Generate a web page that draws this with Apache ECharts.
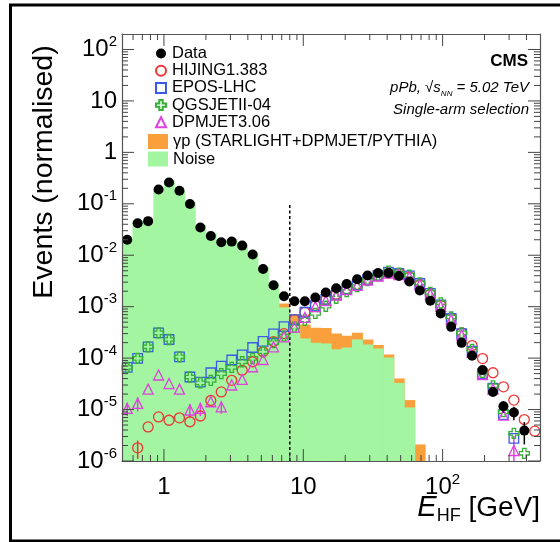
<!DOCTYPE html>
<html><head><meta charset="utf-8">
<script src="https://cdn.jsdelivr.net/npm/echarts@6/dist/echarts.min.js"></script>
<style>html,body{margin:0;padding:0;background:#fff;}#c{width:560px;height:542px;}</style>
</head><body><div id="c"></div>
<script>
// ---- binning (40 logarithmic bins from 0.5 to 500 GeV) ----
const E_MIN = 0.5, E_MAX = 500, N_BINS = 40;
const Y_MIN = 1e-6, Y_MAX = 200;
const CUT_E = 8, CUT_TOP = 0.1;

// ---- values (one per bin, null = no point) ----
const dataVals = [0.020, 0.042, 0.046, 0.19, 0.26, 0.18, 0.099, 0.0345, 0.0237, 0.0179,
  0.0184, 0.0154, 0.0103, 0.0054, 0.0026, 0.0016, 0.00128, 0.00128, 0.00151, 0.00189,
  0.00229, 0.00277, 0.00342, 0.00404, 0.00453, 0.00453, 0.00396, 0.00308, 0.00207, 0.00130,
  0.00074, 0.000405, 0.000198, 0.000111, 5.85e-5, 2.2e-5, 1.16e-5, 8.8e-6, 3.9e-6, null];
const dataErr = [0,0,0,0,0,0,0,0,0,0, 0,0,0,0,0,0,0,0,0,0,
  0,0,0,0,0,0,0,0,0,0, 0,0,0,0,3e-6,2e-6,3e-6,2.6e-6,1.8e-6,0];
const noiseVals = [0.021, 0.0457, 0.0457, 0.203, 0.277, 0.183, 0.108, 0.0383, 0.0264, 0.0202,
  0.0202, 0.0164, 0.0113, 0.00593, 0.0028, 9.6e-4, 4.7e-4, 2.4e-4, 1.98e-4, 1.93e-4,
  1.48e-4, 1.61e-4, 2.31e-4, 1.85e-4, 1.54e-4, 1.03e-4, 3.3e-5, 1.1e-5, 0, 0,
  0, 0, 0, 0, 0, 0, 0, 0, 0, 0];
const gammaVals = [0,0,0,0,0,0,0,0,0,0, 0,0,0,0,0, 1.9e-4, 2.4e-4, 2.1e-4, 1.9e-4, 1.94e-4,
  1.54e-4, 1.1e-4, 7.9e-5, 4.6e-5, 2.5e-5, 1.5e-5, 7.2e-6, 4.3e-6, 2.1e-6, 0,
  0,0,0,0,0,0,0,0,0,0];
const hijingVals = [null, 1.8e-6, 4.6e-6, 7.2e-6, 6.2e-6, 6.9e-6, 5.8e-6, 7.5e-6, 1.5e-5, 2.2e-5,
  3.7e-5, 5.8e-5, 8.5e-5, 1.33e-4, 2.1e-4, 3.0e-4, 5.6e-4, 7.8e-4, 1.05e-3, 1.38e-3,
  1.75e-3, 2.2e-3, 2.7e-3, 3.35e-3, 4.0e-3, 4.5e-3, 4.4e-3, 3.8e-3, 2.7e-3, 1.75e-3,
  1.05e-3, 6.0e-4, 3.1e-4, 1.75e-4, 9.8e-5, 5.2e-5, 2.77e-5, 1.53e-5, 6.4e-6, 3.8e-6];
const hijingErr = [0,7e-7,0,0,0,0,0,0,0,0, 0,0,0,0,0,0,0,0,0,0, 0,0,0,0,0,0,0,0,0,0, 0,0,0,0,0,0,0,0,0,0];
const eposVals = [6.6e-5, 9.9e-5, 1.66e-4, 3.1e-4, 2.3e-4, 1.06e-4, 4.3e-5, 3.4e-5, 5.2e-5, 7.0e-5,
  9.2e-5, 1.16e-4, 1.61e-4, 2.11e-4, 2.96e-4, 4.1e-4, 5.6e-4, 7.8e-4, 1.05e-3, 1.38e-3,
  1.72e-3, 2.22e-3, 2.65e-3, 3.37e-3, 4.04e-3, 4.7e-3, 4.42e-3, 3.96e-3, 2.82e-3, 1.82e-3,
  1.08e-3, 5.9e-4, 3.0e-4, 1.37e-4, 5.0e-5, 2.6e-5, 8.0e-6, 2.75e-6, null, null];
const qgsVals = [6.6e-5, 9.9e-5, 1.66e-4, 3.1e-4, 2.3e-4, 1.06e-4, 4.3e-5, 3.3e-5, 3.7e-5, 5.0e-5,
  6.6e-5, 8.5e-5, 9.9e-5, 1.33e-4, 2.0e-4, 2.67e-4, 4.0e-4, 5.5e-4, 7.4e-4, 1.02e-3,
  1.46e-3, 1.97e-3, 2.47e-3, 3.23e-3, 4.0e-3, 4.9e-3, 4.5e-3, 4.1e-3, 2.9e-3, 1.9e-3,
  1.19e-3, 6.3e-4, 3.1e-4, 1.48e-4, 5.3e-5, 2.9e-5, 9.1e-6, 3.45e-6, 1.41e-6, null];
const dpmVals = [1.05e-5, 1.32e-5, 2.5e-5, 4.7e-5, 3.2e-5, 2.5e-5, 9.8e-6, 1.05e-5, 1.42e-5, 1.13e-5,
  3.0e-5, 3.85e-5, 6.8e-5, 9.4e-5, 1.66e-4, 2.6e-4, 4.0e-4, 6.2e-4, 1.0e-3, 1.32e-3,
  1.68e-3, 2.15e-3, 2.6e-3, 3.3e-3, 3.95e-3, 4.5e-3, 4.2e-3, 3.8e-3, 2.7e-3, 1.75e-3,
  1.02e-3, 5.6e-4, 2.8e-4, 1.3e-4, 4.8e-5, 2.5e-5, 7.8e-6, 1.6e-6, null, null];
const dpmErr = [3e-6,4e-6,0,0,0,0,3e-6,3e-6,0,3e-6, 0,0,0,0,0,0,0,0,0,0,
  0,0,0,0,0,0,0,0,0,0, 0,0,0,0,0,0,0,1.5e-6,0,0];

// ---- labels ----
const seriesNames = ['Data', 'HIJING1.383', 'EPOS-LHC', 'QGSJETII-04', 'DPMJET3.06',
  'γp (STARLIGHT+DPMJET/PYTHIA)', 'Noise'];
const yTitle = 'Events (normalised)';
const cmsLabel = 'CMS';
const selLabel = 'Single-arm selection';

// ---- derived ----
const ratio = E_MAX / E_MIN;
const edges = Array.from({length: N_BINS + 1}, (_, k) => E_MIN * Math.pow(ratio, k / N_BINS));
const centers = Array.from({length: N_BINS}, (_, k) => E_MIN * Math.pow(ratio, (k + 0.5) / N_BINS));
const totalVals = noiseVals.map((n, k) => gammaVals[k] > 0 ? n + gammaVals[k] : 0);

function pts(arr) { const o = []; arr.forEach((v, k) => { if (v != null && v > 0) o.push([centers[k], v]); }); return o; }
function hist(arr) { const o = []; arr.forEach((v, k) => { if (v > 0) o.push([edges[k], edges[k + 1], v]); }); return o; }
function errs(vals, es) { const o = []; vals.forEach((v, k) => { if (v != null && es[k] > 0) o.push([centers[k], v, es[k]]); }); return o; }

const xTicks = [], yTicks = [];
for (let d = -1; d <= 2; d++) for (let m = 1; m <= 9; m++) {
  const v = m * Math.pow(10, d);
  if (v > E_MIN * 1.0001 && v < E_MAX * 0.9999) xTicks.push([v, Y_MIN, m === 1 ? 1 : 0]);
}
for (let d = -6; d <= 2; d++) for (let m = 1; m <= 9; m++) {
  const v = m * Math.pow(10, d);
  if (v > Y_MIN * 0.9999 && v < Y_MAX * 0.9999) yTicks.push([E_MIN, v, m === 1 ? 1 : 0]);
}

const FONT = "'Liberation Sans', Arial, Helvetica, sans-serif";
const C_HIJ = '#ee3535', C_EPOS = '#3b5be6', C_QGS = '#35b035', C_DPM = '#e040e0';
const C_ORANGE = '#f9a03c', C_NOISE = '#a3f5a1', C_AX = '#555';
const CROSS = 'path://M3.3,0H6.7V3.3H10V6.7H6.7V10H3.3V6.7H0V3.3H3.3Z';

function powLabel(v) {
  const e = Math.round(Math.log10(v));
  if (Math.abs(Math.log10(v) - e) > 1e-6) return '';
  if (e === 0) return '{b|1}';
  if (e === 1) return '{b|10}';
  return '{b|10}{s|' + e + '}';
}
const richLab = {
  b: {fontSize: 24, lineHeight: 30, fontFamily: FONT, color: '#000'},
  s: {fontSize: 15, lineHeight: 15, verticalAlign: 'top', fontFamily: FONT, color: '#000'}
};

function histRender(color) {
  return function (params, api) {
    const p0 = api.coord([api.value(0), Y_MIN]);
    const p1 = api.coord([api.value(1), api.value(2)]);
    return {type: 'rect', shape: {x: p0[0], y: p1[1], width: p1[0] - p0[0] + 0.6, height: p0[1] - p1[1]},
      style: {fill: color}};
  };
}
function errRender(color) {
  return function (params, api) {
    const x = api.value(0), v = api.value(1), e = api.value(2);
    const a = api.coord([x, Math.max(v - e, Y_MIN)]), b = api.coord([x, v + e]);
    return {type: 'line', shape: {x1: a[0], y1: a[1], x2: b[0], y2: b[1]}, style: {stroke: color, lineWidth: 1.5}};
  };
}
function hollow(c) { return {color: 'rgba(0,0,0,0)', borderColor: c, borderWidth: 1.3, opacity: 1}; }

const chart = echarts.init(document.getElementById('c'), null, {renderer: 'canvas'});
chart.setOption({
  animation: false,
  backgroundColor: '#fff',
  grid: {left: 122, right: 20, top: 34, bottom: 81, containLabel: false, outerBoundsMode: 'none'},
  xAxis: [
    {type: 'log', logBase: 10, min: E_MIN, max: E_MAX, z: 10,
      axisLine: {show: true, lineStyle: {color: C_AX, width: 1.2}}, axisTick: {show: false},
      splitLine: {show: false}, minorTick: {show: false},
      axisLabel: {formatter: powLabel, rich: richLab, margin: 11, showMinLabel: true, showMaxLabel: true, hideOverlap: false}},
    {type: 'log', logBase: 10, min: E_MIN, max: E_MAX, position: 'top', z: 10,
      axisLine: {show: true, lineStyle: {color: C_AX, width: 1.2}}, axisTick: {show: false},
      axisLabel: {show: false}, splitLine: {show: false}}
  ],
  yAxis: [
    {type: 'log', logBase: 10, min: Y_MIN, max: Y_MAX, z: 10,
      axisLine: {show: true, lineStyle: {color: C_AX, width: 1.2}}, axisTick: {show: false},
      splitLine: {show: false},
      axisLabel: {formatter: powLabel, rich: richLab, margin: 5, showMinLabel: true, showMaxLabel: true, hideOverlap: false}},
    {type: 'log', logBase: 10, min: Y_MIN, max: Y_MAX, position: 'right', z: 10,
      axisLine: {show: true, lineStyle: {color: C_AX, width: 1.2}}, axisTick: {show: false},
      axisLabel: {show: false}, splitLine: {show: false}}
  ],
  legend: [
    {data: seriesNames.slice(0, 5), orient: 'vertical', left: 150, top: 40, itemWidth: 10, itemHeight: 10,
      itemGap: 0.2, selectedMode: false,
      textStyle: {fontSize: 16.5, lineHeight: 17, fontFamily: FONT, color: '#000', padding: [0, 0, 0, 1]}},
    {data: seriesNames.slice(5), orient: 'vertical', left: 143, top: 128, itemWidth: 20, itemHeight: 15,
      itemGap: 0.5, selectedMode: false, icon: 'rect',
      textStyle: {fontSize: 16.5, lineHeight: 17, fontFamily: FONT, color: '#000'}}
  ],
  series: [
    {name: seriesNames[5], type: 'custom', renderItem: histRender(C_ORANGE), data: hist(totalVals),
      encode: {x: [0, 1], y: 2}, itemStyle: {color: C_ORANGE}, z: 1, silent: true},
    {name: seriesNames[6], type: 'custom', renderItem: histRender(C_NOISE), data: hist(noiseVals),
      encode: {x: [0, 1], y: 2}, itemStyle: {color: C_NOISE}, z: 1, silent: true},
    {type: 'line', data: [[CUT_E, Y_MIN], [CUT_E, CUT_TOP]], symbol: 'none', z: 3, silent: true,
      lineStyle: {color: '#000', width: 1.5, type: [3, 2.5]}},
    {type: 'custom', renderItem: errRender(C_HIJ), data: errs(hijingVals, hijingErr), encode: {x: 0, y: 1}, z: 4, silent: true},
    {type: 'custom', renderItem: errRender(C_DPM), data: errs(dpmVals, dpmErr), encode: {x: 0, y: 1}, z: 4, silent: true},
    {name: seriesNames[1], type: 'scatter', symbol: 'circle', symbolSize: 10, data: pts(hijingVals), itemStyle: hollow(C_HIJ), z: 5},
    {name: seriesNames[2], type: 'scatter', symbol: 'rect', symbolSize: 9.5, data: pts(eposVals), itemStyle: hollow(C_EPOS), z: 5},
    {name: seriesNames[3], type: 'scatter', symbol: CROSS, symbolSize: 10, data: pts(qgsVals), itemStyle: hollow(C_QGS), z: 5},
    {name: seriesNames[4], type: 'scatter', symbol: 'triangle', symbolSize: 10, data: pts(dpmVals), itemStyle: hollow(C_DPM), z: 5},
    {type: 'custom', renderItem: errRender('#000'), data: errs(dataVals, dataErr), encode: {x: 0, y: 1}, z: 6, silent: true},
    {name: seriesNames[0], type: 'scatter', symbol: 'circle', symbolSize: 10, data: pts(dataVals), itemStyle: {color: '#000', opacity: 1}, z: 6},
    {type: 'custom', data: xTicks, encode: {x: 0, y: 1}, z: 20, silent: true,
      renderItem: function (params, api) {
        const v = api.value(0), L = api.value(2) ? 12 : 6;
        const b = api.coord([v, Y_MIN]), t = api.coord([v, Y_MAX]);
        return {type: 'group', children: [
          {type: 'line', shape: {x1: b[0], y1: b[1], x2: b[0], y2: b[1] - L}, style: {stroke: '#444', lineWidth: 1}},
          {type: 'line', shape: {x1: t[0], y1: t[1], x2: t[0], y2: t[1] + L}, style: {stroke: '#444', lineWidth: 1}}]};
      }},
    {type: 'custom', data: yTicks, encode: {x: 0, y: 1}, z: 20, silent: true,
      renderItem: function (params, api) {
        const v = api.value(1), L = api.value(2) ? 12 : 6;
        const l = api.coord([E_MIN, v]), r = api.coord([E_MAX, v]);
        return {type: 'group', children: [
          {type: 'line', shape: {x1: l[0], y1: l[1], x2: l[0] + L, y2: l[1]}, style: {stroke: '#444', lineWidth: 1}},
          {type: 'line', shape: {x1: r[0], y1: r[1], x2: r[0] - L, y2: r[1]}, style: {stroke: '#444', lineWidth: 1}}]};
      }}
  ],
  graphic: [
    {type: 'rect', shape: {x: 10.5, y: 5, width: 560, height: 536}, style: {fill: 'none', stroke: '#000', lineWidth: 3}, z: 100, silent: true},
    {type: 'text', x: 44, y: 172, rotation: Math.PI / 2, silent: true,
      style: {text: yTitle, font: '28.5px ' + FONT, fill: '#000', align: 'center', verticalAlign: 'middle'}},
    {type: 'text', x: 540, y: 508, silent: true,
      style: {text: '{e|E}{s|HF}{t| [GeV]}', align: 'right', verticalAlign: 'middle',
        rich: {e: {fontSize: 29, fontStyle: 'italic', fontFamily: FONT, lineHeight: 34, fill: '#000'},
               s: {fontSize: 18, fontFamily: FONT, lineHeight: 18, verticalAlign: 'bottom', fill: '#000'},
               t: {fontSize: 28, fontFamily: FONT, lineHeight: 34, fill: '#000'}}}},
    {type: 'text', x: 528, y: 61, silent: true,
      style: {text: cmsLabel, font: 'bold 17px ' + FONT, fill: '#000', align: 'right', verticalAlign: 'middle'}},
    {type: 'text', x: 529, y: 88, silent: true,
      style: {text: '{i|pPb, √}{i|s}{n|NN}{i| = 5.02 TeV}', align: 'right', verticalAlign: 'middle',
        rich: {i: {fontSize: 15, fontStyle: 'italic', fontFamily: FONT, lineHeight: 20, fill: '#000'},
               n: {fontSize: 8, fontStyle: 'italic', fontFamily: FONT, lineHeight: 10, verticalAlign: 'bottom', fill: '#000'}}}},
    {type: 'text', x: 529, y: 110, silent: true,
      style: {text: selLabel, font: 'italic 15px ' + FONT, fill: '#000', align: 'right', verticalAlign: 'middle'}}
  ]
});
</script>
</body></html>
